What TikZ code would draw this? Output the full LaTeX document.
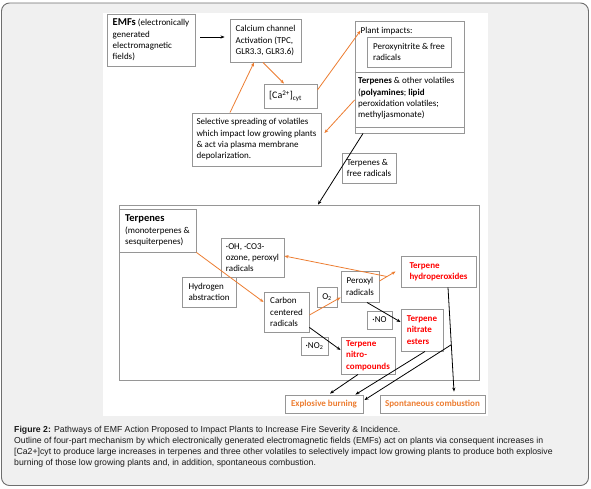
\documentclass[tikz,border=0pt]{standalone}
\usepackage{fontspec}
\setmainfont{Carlito}
\newfontfamily\capfont{Liberation Sans}
\usetikzlibrary{arrows.meta,calc}
\definecolor{pagebg}{RGB}{240,240,240}
\definecolor{frameline}{RGB}{110,110,110}
\definecolor{boxg}{RGB}{150,150,150}
\definecolor{orng}{RGB}{237,125,49}
\definecolor{redt}{RGB}{255,0,0}
\definecolor{captxt}{RGB}{25,25,25}
\begin{document}
\begin{tikzpicture}[x=1pt,y=-1pt,
  box/.style={draw=boxg,fill=white,line width=0.9pt,inner sep=0pt,align=left,
    font=\fontsize{9}{11.3}\selectfont},
  ctr/.style={align=center},
  txt/.style={inner sep=0pt,align=left,font=\fontsize{9}{11.3}\selectfont},
  redbold/.style={text=redt,font=\fontsize{9}{11.3}\selectfont\bfseries},
  orbold/.style={text=orng,font=\fontsize{9}{11.3}\selectfont\bfseries},
  oarr/.style={draw=orng,line width=0.8pt,-{Stealth[length=4pt,width=3.2pt]}},
  barr/.style={draw=black,line width=0.8pt,-{Stealth[length=4pt,width=3.2pt]}},
  divline/.style={draw=boxg,line width=0.9pt}
]
\useasboundingbox (0,0) rectangle (591,488);
% page background
\draw[fill=pagebg,draw=frameline,line width=0.9pt,rounded corners=8pt] (1.5,3) rectangle (588.5,485.5);
\fill[white] (103,13) rectangle (488,416);

% ---------- top part ----------
\node[box,minimum width=88pt,minimum height=52pt] (emf) at (151,40)
  {{\fontsize{10.5}{11.3}\selectfont\bfseries EMFs} (electronically\\generated\\electromagnetic\\fields)};
\node[box,minimum width=71pt,minimum height=43pt] (calc) at (265.5,40.5)
  {Calcium channel\\Activation (TPC,\\GLR3.3, GLR3.6)};
\node[box,minimum width=53pt,minimum height=24pt] (ca) at (290.5,96)
  {{\fontsize{10}{11.3}\selectfont[Ca\textsuperscript{2+}]\textsubscript{cyt}}\hspace{10pt}};
\node[box,minimum width=129pt,minimum height=53pt] (sel) at (256.5,139.5)
  {Selective spreading of volatiles\\which impact low growing plants\\\& act via plasma membrane\\depolarization.};

\node[box,minimum width=109pt,minimum height=112pt] (plant) at (409.5,77) {};
\draw[divline] (plant.west |- 0,72) -- (plant.east |- 0,72);
\draw[divline] (plant.west |- 0,127.5) -- (plant.east |- 0,127.5);
\node[txt,anchor=base west] (pilbl) at (360.5,33) {Plant impacts:};
\node[box,minimum width=84pt,minimum height=30pt] (perox) at (409,52)
  {Peroxynitrite \& free\\radicals\hspace{40pt}};
\node[txt,anchor=north west] (terpvol) at (358,77.5)
  {\textbf{Terpenes} \& other volatiles\\(\textbf{polyamines}; \textbf{lipid}\\peroxidation volatiles;\\methyljasmonate)};

\node[box,minimum width=54pt,minimum height=30pt] (tfr) at (369,168)
  {Terpenes \&\\free radicals};

% ---------- terpenes frame ----------
\node[box,minimum width=360pt,minimum height=175pt] (frame) at (299,292.5) {};

\node[box,minimum width=77pt,minimum height=43pt] (terp) at (157.5,230.5)
  {{\fontsize{10.5}{12}\selectfont\bfseries Terpenes}\\(monoterpenes \&\\sesquiterpenes)};
\node[box,minimum width=63pt,minimum height=39pt] (oh) at (252.5,257.5)
  {·OH, ·CO3-\\ozone, peroxyl\\radicals};
\node[box,minimum width=54pt,minimum height=30pt] (hab) at (209,292)
  {Hydrogen\\abstraction};
\node[box,minimum width=45pt,minimum height=40pt] (ccr) at (286.5,312)
  {Carbon\\centered\\radicals};
\node[box,ctr,minimum width=20pt,minimum height=20pt] (o2) at (327,297) {O\textsubscript{2}};
\node[box,ctr,minimum width=38pt,minimum height=31pt] (perx) at (360,286.5)
  {Peroxyl\\radicals};
\node[box,redbold,minimum width=75pt,minimum height=31pt] (hydro) at (438.5,271.5)
  {Terpene\hspace{28pt}\\hydroperoxides};
\node[box,ctr,minimum width=25pt,minimum height=18pt] (no) at (379.5,320) {·NO};
\node[box,redbold,minimum width=42pt,minimum height=42pt] (nitr) at (422,330)
  {Terpene\\nitrate\\esters};
\node[box,ctr,minimum width=27pt,minimum height=18pt] (no2) at (314.5,346) {·NO\textsubscript{2}};
\node[box,redbold,minimum width=54pt,minimum height=37pt] (nitro) at (368,355.5)
  {Terpene\\nitro-\\compounds};

\node[box,orbold,ctr,minimum width=78pt,minimum height=18pt] (exp) at (324,404)
  {Explosive burning};
\node[box,orbold,ctr,minimum width=105pt,minimum height=18pt] (spon) at (432.5,404)
  {Spontaneous combustion};

% ---------- connectors ----------
\draw[barr] ([xshift=5pt,yshift=3pt]emf.east) -- ([xshift=-5pt,yshift=3.5pt]calc.west);
\draw[oarr] ([xshift=-2.5pt]calc.south) -- ([xshift=-6.5pt]ca.north);
\draw[oarr] ([xshift=-26.5pt]sel.north) -- ([xshift=-11.5pt]calc.south);
\draw[oarr] ([yshift=6pt]ca.east) -- (pilbl.west);
\draw[oarr] ([yshift=-23pt]plant.west) -- ([xshift=3pt,yshift=6.5pt]sel.east);
\draw[barr] ([xshift=-46.5pt]plant.south) -- ([xshift=19pt]frame.north);

\draw[oarr] (terp.south east) -- ([yshift=10pt]ccr.west);
\draw[oarr] ([yshift=-3pt]ccr.east) -- ([yshift=5pt]perx.south west);
\draw[oarr] ([yshift=5.5pt]perx.east) -- coordinate[pos=0.47] (br1) ([xshift=-5pt]hydro.west);
\draw[oarr] (br1) -- ([yshift=1.5pt]oh.east);
\draw[barr] ([xshift=7pt]perx.south) -- ([yshift=8pt]nitr.west);
\draw[barr] ([yshift=5pt]ccr.south east) -- ([yshift=5.5pt]nitro.west);
\draw[barr] ([xshift=-10pt]nitro.south) -- ([xshift=6pt,yshift=1pt]exp.north);
\draw[barr] ([xshift=3pt]nitr.south) -- ([xshift=-8pt]exp.north east);
\draw[barr] ([xshift=9.5pt]hydro.south) -- coordinate[pos=0.55] (br2) ([xshift=21.5pt,yshift=3pt]spon.north);
\draw[barr] (br2) -- ([xshift=1pt,yshift=4pt]exp.east);

% ---------- caption ----------
\node[inner sep=0pt,anchor=north west,align=left,text=captxt,
  font=\capfont\fontsize{8.7}{11}\selectfont] (cap) at (14,425.5)
  {\textbf{Figure 2:} Pathways of EMF Action Proposed to Impact Plants to Increase Fire Severity \& Incidence.\\
   Outline of four-part mechanism by which electronically generated electromagnetic fields (EMFs) act on plants via consequent increases in\\{}%
   [Ca2+]cyt to produce large increases in terpenes and three other volatiles to selectively impact low growing plants to produce both explosive\\
   burning of those low growing plants and, in addition, spontaneous combustion.};
\end{tikzpicture}
\end{document}
